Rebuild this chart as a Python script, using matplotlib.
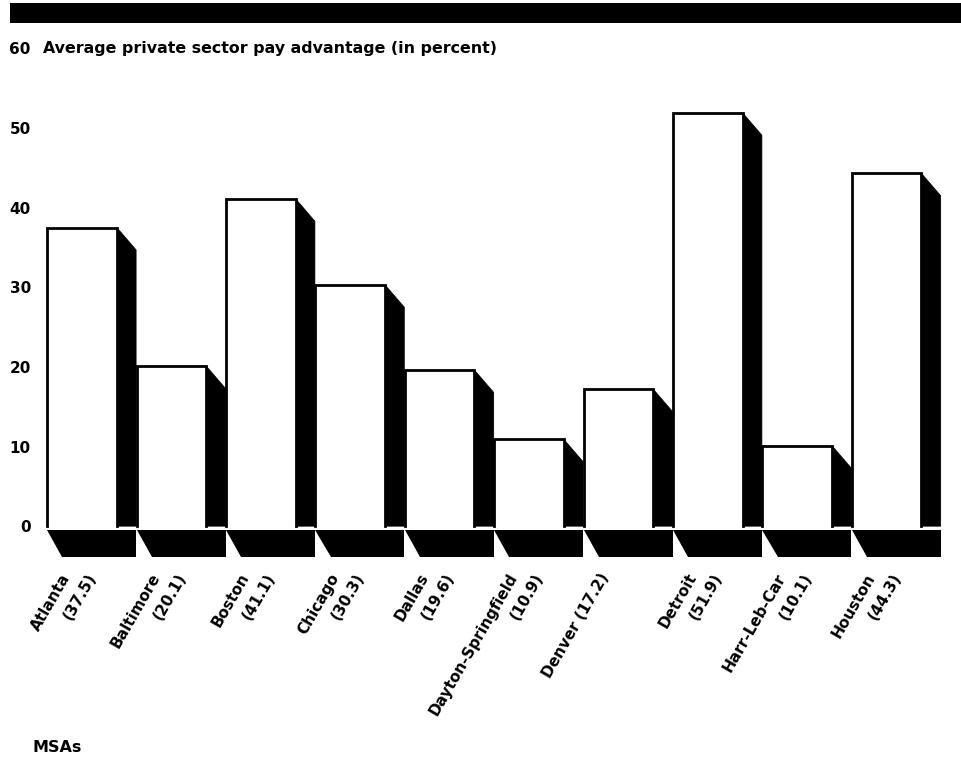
import matplotlib
matplotlib.use("Agg")
import matplotlib.pyplot as plt
from matplotlib.patches import Polygon, Rectangle

plt.rcParams['font.family'] = ['DejaVu Sans']
plt.rcParams['font.weight'] = 'bold'

# data
cities = ['Atlanta', 'Baltimore', 'Boston', 'Chicago', 'Dallas',
          'Dayton-Springfield', 'Denver', 'Detroit', 'Harr-Leb-Car', 'Houston']
advantage = [37.5, 20.1, 41.1, 30.3, 19.6, 10.9, 17.2, 51.9, 10.1, 44.3]
labels = ['Atlanta\n(37.5)', 'Baltimore\n(20.1)', 'Boston\n(41.1)', 'Chicago\n(30.3)',
          'Dallas\n(19.6)', 'Dayton-Springfield\n(10.9)', 'Denver (17.2)',
          'Detroit\n(51.9)', 'Harr-Leb-Car\n(10.1)', 'Houston\n(44.3)']
yticks = [0, 10, 20, 30, 40, 50, 60]

W, H = 961, 760
fig = plt.figure(figsize=(W / 100, H / 100), dpi=100)
ax = fig.add_axes([35 / W, (H - 566) / H, 920 / W, (566 - 48.4) / H])

front = 0.78
depth = 0.215
drop = 2.8
fs = 11

for i, v in enumerate(advantage):
    xl = i - front / 2
    xr = i + front / 2
    # floor shadow
    ax.add_patch(Polygon([(xl, -0.5), (xr + depth, -0.5), (xr + depth, -3.9),
                          (xl + 0.17, -3.9)], closed=True, fc='black', ec='none'))
    # side face
    ax.add_patch(Polygon([(xr, 0), (xr, v), (xr + depth, v - drop), (xr + depth, 0)],
                         closed=True, fc='black', ec='black', lw=0.5))
    # front face (outlined on left, top and right only)
    ax.add_patch(Rectangle((xl, 0), front, v, fc='white', ec='none'))
    ax.plot([xl, xl, xr, xr], [0, v, v, 0], color='black', lw=2,
            solid_joinstyle='miter')
    # rotated labels, each line ending on the same height
    lines = labels[i].split('\n')
    offs = [-0.22] if len(lines) == 1 else [-0.24, 0.05]
    for line, dx in zip(lines, offs):
        ax.text(i + dx, -5.6, line, rotation=60, rotation_mode='anchor',
                ha='right', va='top', fontsize=fs, fontweight='bold',
                clip_on=False)

ax.set_xlim(-0.526, 9.765)
ax.set_ylim(-5, 60)
ax.set_yticks(yticks)
ax.set_yticklabels([str(t) for t in yticks], fontsize=fs, fontweight='bold')
ax.set_xticks([])
ax.tick_params(axis='y', length=0, pad=3)
for s in ax.spines.values():
    s.set_visible(False)

# header band and titles
fig.patches.append(Rectangle((10 / W, 1 - 23 / H), 951 / W, 20 / H,
                             transform=fig.transFigure, fc='black', ec='none'))
fig.text(43 / W, 1 - 48 / H, 'Average private sector pay advantage (in percent)',
         fontsize=11.4, fontweight='bold', va='center', ha='left')
fig.text(32 / W, 1 - 747 / H, 'MSAs', fontsize=11.5, fontweight='bold',
         va='center', ha='left')

fig.savefig('out.png', dpi=100)
